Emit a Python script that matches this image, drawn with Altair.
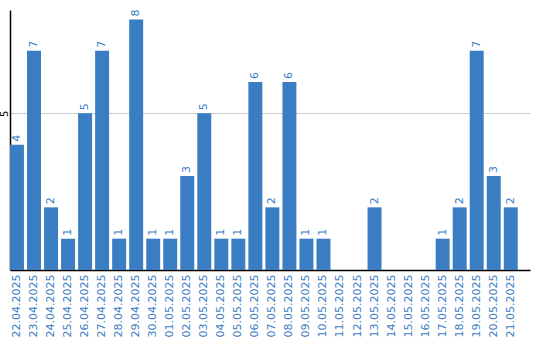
import altair as alt
import pandas as pd

dates = ["22.04.2025", "23.04.2025", "24.04.2025", "25.04.2025", "26.04.2025",
         "27.04.2025", "28.04.2025", "29.04.2025", "30.04.2025", "01.05.2025",
         "02.05.2025", "03.05.2025", "04.05.2025", "05.05.2025", "06.05.2025",
         "07.05.2025", "08.05.2025", "09.05.2025", "10.05.2025", "11.05.2025",
         "12.05.2025", "13.05.2025", "14.05.2025", "15.05.2025", "16.05.2025",
         "17.05.2025", "18.05.2025", "19.05.2025", "20.05.2025", "21.05.2025"]
values = [4, 7, 2, 1, 5, 7, 1, 8, 1, 1, 3, 5, 1, 1, 6, 2, 6, 1, 1, 0,
          0, 2, 0, 0, 0, 1, 2, 7, 3, 2]

df = pd.DataFrame({"date": dates, "value": values})
df_lab = df[df["value"] > 0]

BLUE = "#3b7dc3"
FONT = "DejaVu Sans"

x = alt.X("date:N", sort=dates, title=None,
          scale=alt.Scale(paddingInner=0.18, paddingOuter=0.36, align=0),
          axis=alt.Axis(labelAngle=270, labelColor=BLUE, labelFontSize=11,
                        labelFont=FONT, ticks=False, labelPadding=4, grid=False,
                        domainColor="#000000", domainWidth=1.5,
                        labelAlign="right", labelBaseline="middle"))
y = alt.Y("value:Q", title=None,
          scale=alt.Scale(domain=[0, 8.3], nice=False),
          axis=alt.Axis(values=[5], labelAngle=270, labelAlign="center",
                        labelBaseline="bottom", labelFontSize=10, labelFont=FONT,
                        labelColor="#000000", ticks=False, labelPadding=1,
                        grid=True, gridColor="#cccccc",
                        domainColor="#000000", domainWidth=1.5))

bars = alt.Chart(df).mark_bar(color=BLUE).encode(x=x, y=y)
labels = alt.Chart(df_lab).mark_text(
    angle=270, align="left", baseline="middle", dx=3,
    color=BLUE, fontSize=11, font=FONT
).encode(x=alt.X("date:N", sort=dates), y="value:Q", text="value:Q")

chart = (bars + labels).properties(
    width=520, height=260,
    autosize=alt.AutoSizeParams(type="none"),
    padding={"left": 10, "top": 10, "right": 10, "bottom": 70},
).configure_view(stroke=None)

chart.save("out.html", embed_options={"renderer": "svg", "actions": False})
